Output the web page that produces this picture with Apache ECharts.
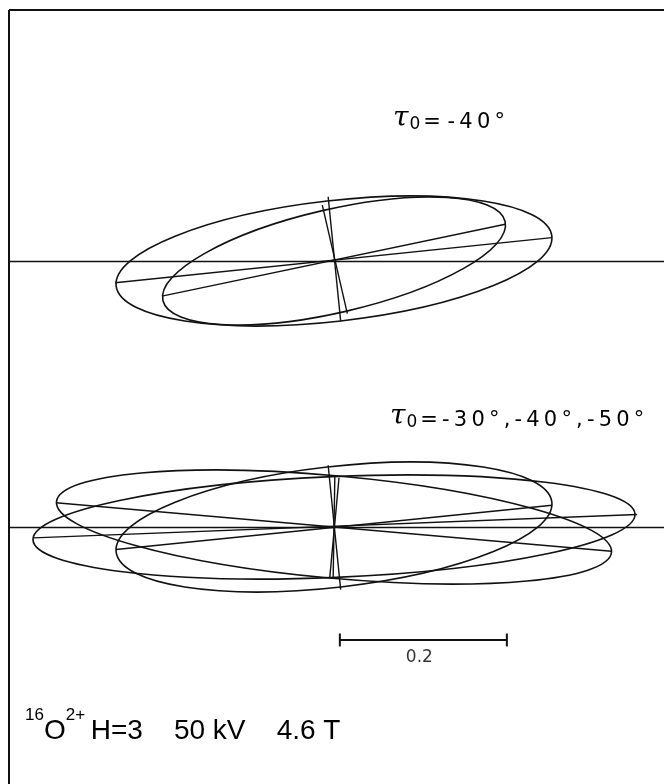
<!DOCTYPE html>
<html>
<head>
<meta charset="utf-8">
<script src="https://cdn.jsdelivr.net/npm/echarts@6/dist/echarts.min.js"></script>
<style>
  html, body { margin: 0; padding: 0; background: #fff; }
  #chart { width: 664px; height: 784px; }
</style>
</head>
<body>
<div id="chart"></div>
<script>
// units: same as the scale bar (bar = 0.2), origin at the crossing of the axes
// ellipse = [centre x, centre y, half length, half width, tilt in degrees]
var topEllipses = [
  [0, 0, 0.2626, 0.0723, 6.5],
  [0, 0, 0.2103, 0.0619, 13.0]
];
var bottomEllipses = [
  [0, 0, 0.2626, 0.0723, 6.5],
  [0, 0, 0.3337, 0.0614, -5.2],
  [0, 0, 0.3608, 0.0604, 2.45]
];
// diameters drawn inside the ellipses: [x1, y1, x2, y2]
var topDiameters = [
  [-0.262, -0.026, 0.261, 0.028],
  [-0.206, -0.042, 0.205, 0.044],
  [-0.007, 0.077, 0.008, -0.072],
  [-0.014, 0.067, 0.016, -0.063]
];
var bottomDiameters = [
  [-0.261, -0.027, 0.261, 0.026],
  [-0.333, 0.029, 0.332, -0.029],
  [-0.360, -0.013, 0.363, 0.015],
  [-0.007, 0.074, 0.008, -0.075],
  [0.006, 0.059, -0.005, -0.060],
  [0.001, 0.061, -0.001, -0.061]
];
var scaleBar = [[0.007, -0.1353], [0.207, -0.1353]];
var scaleText = '0.2';
var topAngle = '-40°';
var bottomAngles = ['-30°', '-40°', '-50°'];
var runText = ['16', 'O', '2+', 'H=3', '50 kV', '4.6 T'];

var INK = '#111';

var chartDom = document.getElementById('chart');
var myChart = echarts.init(chartDom);

// the lettering on the plate is widely spaced: put thin spaces between characters
function spread(str) {
  return str.split('').join('\u2009');
}

function ellipseItem(params, api) {
  var c = api.coord([api.value(0), api.value(1)]);
  var s = api.size([api.value(2), api.value(3)]);
  return {
    type: 'ellipse',
    x: c[0],
    y: c[1],
    rotation: api.value(4) * Math.PI / 180,
    shape: { cx: 0, cy: 0, rx: s[0], ry: s[1] },
    style: { fill: 'none', stroke: INK, lineWidth: 1.6 }
  };
}

function diameterItem(params, api) {
  var p1 = api.coord([api.value(0), api.value(1)]);
  var p2 = api.coord([api.value(2), api.value(3)]);
  return {
    type: 'line',
    shape: { x1: p1[0], y1: p1[1], x2: p2[0], y2: p2[1] },
    style: { stroke: INK, lineWidth: 1.4 }
  };
}

var xRange = { min: -0.3892, max: 0.3952 };
var yRange = { min: -0.1557, max: 0.1557 };

function xAxisFor(i) {
  return {
    type: 'value', gridIndex: i, min: xRange.min, max: xRange.max,
    axisLine: { show: true, onZero: true, lineStyle: { color: INK, width: 1.4 } },
    axisTick: { show: false }, axisLabel: { show: false }, splitLine: { show: false }
  };
}
function yAxisFor(i) {
  return { type: 'value', gridIndex: i, min: yRange.min, max: yRange.max, show: false };
}

var tauRich = {
  t: { fontFamily: 'DejaVu Serif', fontStyle: 'italic', fontSize: 28, color: INK, verticalAlign: 'bottom' },
  s: { fontFamily: 'DejaVu Sans', fontSize: 17, color: INK, verticalAlign: 'bottom', padding: [0, 3, 0, 1] },
  n: { fontFamily: 'DejaVu Sans', fontSize: 21, color: INK, verticalAlign: 'bottom' }
};

option = {
  backgroundColor: '#fff',
  animation: false,
  grid: [
    { left: 9, right: 0, top: 131, height: 260 },
    { left: 9, right: 0, top: 397, height: 260 }
  ],
  xAxis: [xAxisFor(0), xAxisFor(1)],
  yAxis: [yAxisFor(0), yAxisFor(1)],
  graphic: [
    // frame of the plate
    { type: 'line', shape: { x1: 9, y1: 10, x2: 664, y2: 10 }, style: { stroke: INK, lineWidth: 2 } },
    { type: 'line', shape: { x1: 9, y1: 10, x2: 9, y2: 784 }, style: { stroke: INK, lineWidth: 2 } },
    {
      type: 'text', left: 393, top: 105,
      style: {
        text: '{t|τ}{s|0}{n|= ' + spread(topAngle) + '}',
        rich: tauRich
      }
    },
    {
      type: 'text', left: 390, top: 403,
      style: {
        text: '{t|τ}{s|0}{n|=\u2009' + spread(bottomAngles.join(',')) + '}',
        rich: tauRich
      }
    },
    {
      type: 'text', left: 25, top: 707,
      style: {
        text: '{p|' + runText[0] + '}{b|' + runText[1] + '}{p|' + runText[2] + '}{b|\u2009' + runText[3] +
          '    ' + runText[4] + '    ' + runText[5] + '}',
        rich: {
          p: { fontFamily: 'Liberation Sans', fontSize: 17, color: INK, verticalAlign: 'top', lineHeight: 38 },
          b: { fontFamily: 'Liberation Sans', fontSize: 28, color: INK, verticalAlign: 'bottom', lineHeight: 38 }
        }
      }
    }
  ],
  series: [
    { type: 'custom', xAxisIndex: 0, yAxisIndex: 0, renderItem: ellipseItem, data: topEllipses, clip: false, silent: true },
    { type: 'custom', xAxisIndex: 0, yAxisIndex: 0, renderItem: diameterItem, data: topDiameters, clip: false, silent: true },
    { type: 'custom', xAxisIndex: 1, yAxisIndex: 1, renderItem: ellipseItem, data: bottomEllipses, clip: false, silent: true },
    { type: 'custom', xAxisIndex: 1, yAxisIndex: 1, renderItem: diameterItem, data: bottomDiameters, clip: false, silent: true },
    {
      type: 'line', xAxisIndex: 1, yAxisIndex: 1, data: scaleBar,
      symbol: 'rect', symbolSize: [2, 13], itemStyle: { color: INK },
      lineStyle: { color: INK, width: 2 }, silent: true
    },
    {
      type: 'scatter', xAxisIndex: 1, yAxisIndex: 1,
      data: [[(scaleBar[0][0] + scaleBar[1][0]) / 2, scaleBar[0][1]]],
      symbolSize: 0, silent: true,
      label: {
        show: true, position: 'bottom', distance: 9, offset: [-4, 0], formatter: scaleText,
        fontFamily: 'DejaVu Sans', fontSize: 17, color: '#000'
      }
    }
  ]
};

myChart.setOption(option);

window.onresize = () => {
  myChart.resize();
}
</script>
</body>
</html>
